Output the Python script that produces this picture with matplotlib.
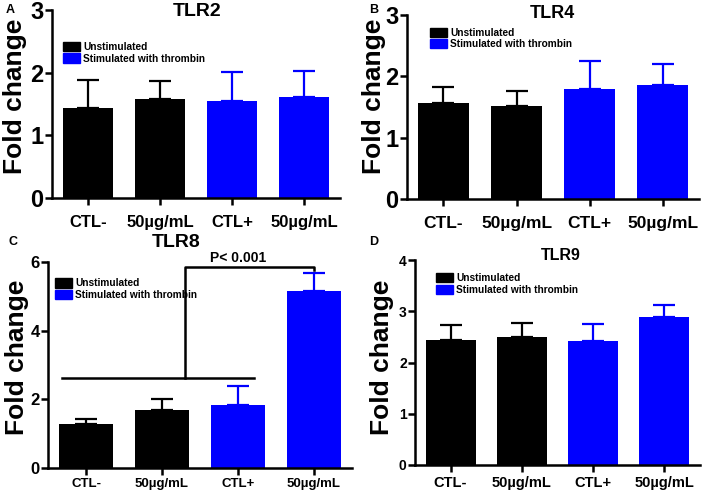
import numpy as np
import matplotlib
matplotlib.use("Agg")
import matplotlib.pyplot as plt
from matplotlib.patches import Patch

plt.rcParams['font.family'] = ['Liberation Sans', 'DejaVu Sans']
plt.rcParams['font.weight'] = 'bold'

# -------------------------------
# Data
# -------------------------------
groups = ['CTL-', '50\u00b5g/mL', 'CTL+', '50\u00b5g/mL']
group_colors = ['black', 'black', '#0000ff', '#0000ff']

tlr2_mean = [1.44, 1.58, 1.54, 1.61]
tlr2_top = [1.88, 1.87, 2.01, 2.03]

tlr4_mean = [1.56, 1.52, 1.79, 1.86]
tlr4_top = [1.82, 1.76, 2.25, 2.20]

tlr8_mean = [1.28, 1.69, 1.83, 5.16]
tlr8_top = [1.42, 2.02, 2.39, 5.67]

tlr9_mean = [2.44, 2.49, 2.41, 2.89]
tlr9_top = [2.73, 2.77, 2.76, 3.12]

W, H = 708, 491
BLUE = '#0000ff'


def px_axes(fig, left, right, top, bottom):
    return fig.add_axes([left / W, 1 - bottom / H, (right - left) / W, (bottom - top) / H])


def panel(ax, title, means, tops, ymax, ystep, ytick_fs, xtick_fs, title_fs,
          title_xy, label_xy, leg_xy, xpad):
    x = np.arange(len(groups))
    err = np.array(tops) - np.array(means)
    for i in range(len(groups)):
        ax.bar(x[i], means[i], width=0.7, color=group_colors[i], zorder=2)
        ax.errorbar(x[i], means[i], yerr=[[0], [err[i]]], fmt='none',
                    ecolor=group_colors[i], elinewidth=1.6, capsize=8,
                    capthick=1.6, zorder=1)
    ax.set_xlim(-0.5, 3.5)
    ax.set_ylim(0, ymax)
    yt = np.arange(0, ymax + 0.01, ystep)
    ax.set_yticks(yt)
    ax.set_yticklabels([str(int(v)) for v in yt], fontsize=ytick_fs, fontweight='bold')
    ax.set_xticks(x)
    ax.set_xticklabels(groups, fontsize=xtick_fs, fontweight='bold')
    ax.tick_params(axis='y', direction='out', length=5, width=1.8, pad=1)
    ax.tick_params(axis='x', direction='out', length=5, width=1.8, pad=xpad)
    for s in ['top', 'right']:
        ax.spines[s].set_visible(False)
    for s in ['left', 'bottom']:
        ax.spines[s].set_linewidth(1.8)
    ax.text(title_xy[0], title_xy[1], title, transform=ax.transAxes,
            fontsize=title_fs, fontweight='bold', ha='center', va='center',
            clip_on=False)
    ax.set_ylabel('Fold change', fontsize=19, fontweight='bold', va='center')
    ax.yaxis.set_label_coords(*label_xy)
    handles = [Patch(facecolor='black', edgecolor='black', label='Unstimulated'),
               Patch(facecolor=BLUE, edgecolor=BLUE, label='Stimulated with thrombin')]
    leg = ax.legend(handles=handles, loc='upper left', bbox_to_anchor=leg_xy,
                    frameon=False, fontsize=7.3, handlelength=1.7,
                    handleheight=1.0, handletextpad=0.3, labelspacing=0.15,
                    borderpad=0, borderaxespad=0)
    for t in leg.get_texts():
        t.set_fontweight('bold')


fig = plt.figure(figsize=(W / 100, H / 100), dpi=100)

# A - TLR2
axA = px_axes(fig, 52, 340, 10, 198)
panel(axA, 'TLR2', tlr2_mean, tlr2_top, 3, 1, 17, 12, 14, (0.503, 0.99),
      (-0.128, 0.54), (0.038, 0.83), 7)

# B - TLR4
axB = px_axes(fig, 407, 699, 15, 199)
panel(axB, 'TLR4', tlr4_mean, tlr4_top, 3, 1, 17, 12.5, 13, (0.497, 1.01),
      (-0.113, 0.556), (0.079, 0.93), 7)

# C - TLR8
axC = px_axes(fig, 48, 352, 262, 468)
panel(axC, 'TLR8', tlr8_mean, tlr8_top, 6, 2, 12, 9.5, 14, (0.42, 1.096),
      (-0.102, 0.537), (0.023, 0.92), 2)

# significance bracket
grp_lo, grp_hi = -0.31, 2.21
join_x, end_x = 1.30, 3.0
line_y, top_y, drop_y = 2.61, 5.86, 5.77
axC.plot([grp_lo, grp_hi], [line_y, line_y], color='black', lw=1.8, clip_on=False)
axC.plot([join_x, join_x, end_x, end_x], [line_y, top_y, top_y, drop_y],
         color='black', lw=1.8, clip_on=False)
axC.text(2.0, 6.12, 'P< 0.001', ha='center', va='center', fontsize=10,
         fontweight='bold', clip_on=False)

# D - TLR9
axD = px_axes(fig, 415, 700, 260, 465)
panel(axD, 'TLR9', tlr9_mean, tlr9_top, 4, 1, 10, 10.5, 11.5, (0.512, 1.02),
      (-0.116, 0.525), (0.074, 0.935), 3)

# panel letters
for lab, (px, py) in zip('ABCD', [(10, 10), (374, 10), (13, 242), (374, 242)]):
    fig.text(px / W, 1 - py / H, lab, fontsize=9, fontweight='bold',
             ha='center', va='center')

fig.savefig('out.png', dpi=100)
